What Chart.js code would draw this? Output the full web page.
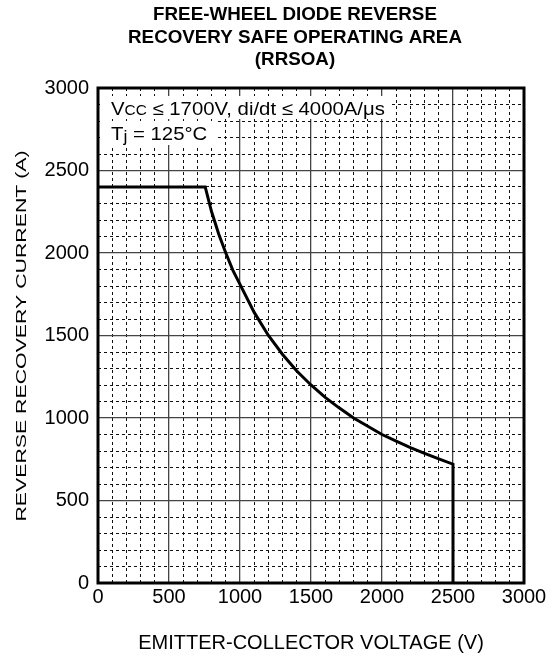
<!DOCTYPE html>
<html><head><meta charset="utf-8">
<script src="https://cdn.jsdelivr.net/npm/chart.js@4.4.0/dist/chart.umd.min.js"></script>
<style>html,body{margin:0;padding:0;background:#fff;} canvas{display:block}</style>
</head><body>
<canvas id="c" width="552" height="658"></canvas>
<script>
const titleLines = ['FREE-WHEEL DIODE REVERSE', 'RECOVERY SAFE OPERATING AREA', '(RRSOA)'];
const xAxisTitle = 'EMITTER-COLLECTOR VOLTAGE (V)';
const yAxisTitle = 'REVERSE RECOVERY CURRENT (A)';
const xTickLabels = ['0', '500', '1000', '1500', '2000', '2500', '3000'];
const yTickLabels = ['0', '500', '1000', '1500', '2000', '2500', '3000'];
// RRSOA boundary
const voltage = [0, 755, 800, 850, 900, 950, 1000, 1100, 1200, 1300, 1400, 1500, 1600, 1700, 1800, 1900, 2000, 2100, 2200, 2300, 2400, 2500, 2500];
const current = [2400, 2400, 2250, 2115, 2000, 1895, 1810, 1640, 1500, 1385, 1285, 1200, 1125, 1060, 1000, 950, 900, 860, 820, 785, 752, 720, 0];
const noteLine1 = ['V', 'CC', ' \u2264 1700V, di/dt \u2264 4000A/\u03bcs'];
const noteLine2 = ['T', 'j', ' = 125\u00b0C'];

const FONT = "'Liberation Sans', Arial, Helvetica, sans-serif";
const isMajor = v => Math.round(v) % 500 === 0;

const gridOpts = {
  color: c => (c.tick && isMajor(c.tick.value)) ? '#444' : '#111',
  lineWidth: c => (c.tick && isMajor(c.tick.value)) ? 1.3 : 1,
  drawTicks: false
};
const borderOpts = {
  display: false,
  dash: c => (c.tick && isMajor(c.tick.value)) ? [] : [3, 3]
};

const decor = {
  id: 'decor',
  beforeDatasetsDraw(chart) {
    const {ctx, chartArea: a} = chart;
    ctx.save();
    ctx.fillStyle = '#fff';
    ctx.fillRect(a.left + 2, 96, 292, 23);
    ctx.fillRect(a.left + 2, 121, 118, 24);
    ctx.restore();
  },
  afterDraw(chart) {
    const {ctx, chartArea: a} = chart;
    ctx.save();
    ctx.strokeStyle = '#000';
    ctx.lineWidth = 3;
    ctx.strokeRect(a.left, a.top, a.right - a.left, a.bottom - a.top);
    ctx.fillStyle = '#000';
    ctx.font = 'bold 18.8px ' + FONT;
    ctx.textAlign = 'center';
    ctx.textBaseline = 'alphabetic';
    const tb = [20, 42.5, 65];
    titleLines.forEach((t, i) => ctx.fillText(t, 295, tb[i]));
    ctx.font = '20px ' + FONT;
    ctx.fillText(xAxisTitle, 311, 649);
    ctx.save();
    ctx.translate(26, 336);
    ctx.rotate(-Math.PI / 2);
    ctx.scale(1.42, 1);
    ctx.font = '15px ' + FONT;
    ctx.fillText(yAxisTitle, 0, 0);
    ctx.restore();
    const drawParts = (parts, x, y, sizes, dy) => {
      ctx.save();
      ctx.translate(x, y);
      ctx.scale(1.1, 1);
      ctx.textAlign = 'left';
      let cx = 0;
      parts.forEach((p, i) => {
        ctx.font = sizes[i] + 'px ' + FONT;
        ctx.fillText(p, cx, dy[i]);
        cx += ctx.measureText(p).width;
      });
      ctx.restore();
    };
    drawParts(noteLine1, 111, 115, [18.5, 14, 18.5], [0, 0, 0]);
    drawParts(noteLine2, 111, 140, [18.5, 16, 18.5], [0, 2, 0]);
    ctx.restore();
  }
};

new Chart(document.getElementById('c'), {
  type: 'scatter',
  data: {
    datasets: [{
      data: voltage.map((v, i) => ({x: v, y: current[i]})),
      showLine: true,
      borderColor: '#000',
      borderWidth: 3,
      pointRadius: 0,
      tension: 0,
      fill: false
    }]
  },
  options: {
    responsive: false,
    animation: false,
    layout: {padding: {left: 40, right: 28, top: 88, bottom: 35}},
    plugins: {legend: {display: false}, tooltip: {enabled: false}, title: {display: false}},
    scales: {
      x: {
        type: 'linear', min: 0, max: 3000,
        grid: gridOpts, border: borderOpts,
        afterFit: s => { s.height = 40; },
        ticks: {
          stepSize: 100, autoSkip: false, maxRotation: 0, minRotation: 0, padding: 2,
          color: '#000', font: {family: FONT, size: 20},
          callback: v => { const s = String(Math.round(v)); return xTickLabels.includes(s) ? s : ''; }
        }
      },
      y: {
        type: 'linear', min: 0, max: 3000,
        grid: gridOpts, border: borderOpts,
        afterFit: s => { s.width = 58; },
        ticks: {
          stepSize: 100, autoSkip: false, padding: 9,
          color: '#000', font: {family: FONT, size: 20},
          callback: v => { const s = String(Math.round(v)); return yTickLabels.includes(s) ? s : ''; }
        }
      }
    }
  },
  plugins: [decor]
});
</script>
</body></html>
